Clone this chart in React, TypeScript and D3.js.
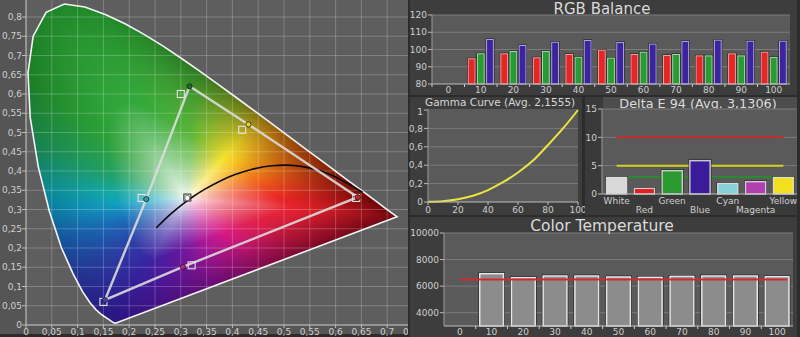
import React, { useMemo } from 'react';
import * as d3 from 'd3';

// ---------- CIE 1931 data ----------
const spectralLocus: [number, number][] = [
  [0.1733, 0.0048], [0.1726, 0.0048], [0.1714, 0.0051], [0.1689, 0.0069], [0.1644, 0.0109],
  [0.1611, 0.0138], [0.1566, 0.0177], [0.151, 0.0227], [0.144, 0.0297], [0.1355, 0.0399],
  [0.1241, 0.0578], [0.1096, 0.0868], [0.0913, 0.1327], [0.0687, 0.2007], [0.0454, 0.295],
  [0.0235, 0.4127], [0.0082, 0.5384], [0.0039, 0.6548], [0.0139, 0.7502], [0.0389, 0.812],
  [0.0743, 0.8338], [0.1142, 0.8262], [0.1547, 0.8059], [0.1929, 0.7816], [0.2296, 0.7543],
  [0.2658, 0.7243], [0.3016, 0.6923], [0.3373, 0.6589], [0.3731, 0.6245], [0.4087, 0.5896],
  [0.4441, 0.5547], [0.4788, 0.5202], [0.5125, 0.4866], [0.5448, 0.4544], [0.5752, 0.4242],
  [0.6029, 0.3965], [0.627, 0.3725], [0.6482, 0.3514], [0.6658, 0.334], [0.6801, 0.3197],
  [0.6915, 0.3083], [0.7006, 0.2993], [0.7079, 0.292], [0.714, 0.2859], [0.719, 0.2809],
];

const planckianLocus: [number, number][] = [
  [0.6528, 0.3444], [0.5857, 0.3931], [0.5267, 0.4133], [0.477, 0.4137], [0.4369, 0.4041],
  [0.4053, 0.3907], [0.3805, 0.3768], [0.3451, 0.3516], [0.3221, 0.3318], [0.3064, 0.3166],
  [0.2952, 0.3048], [0.2807, 0.2884], [0.2637, 0.2674], [0.2565, 0.2577], [0.2525, 0.2523],
];

const whitePoint: [number, number] = [0.3127, 0.329];

const pointNames = ['Red', 'Green', 'Blue', 'Cyan', 'Magenta', 'Yellow', 'White'];
const targetX = [0.64, 0.3, 0.15, 0.224, 0.321, 0.419, 0.3127];
const targetY = [0.33, 0.6, 0.06, 0.33, 0.155, 0.507, 0.331];
const measuredX = [0.643, 0.317, 0.153, 0.233, 0.304, 0.431, 0.3126];
const measuredY = [0.332, 0.62, 0.065, 0.327, 0.151, 0.521, 0.33];
const measuredColors = ['#d42020', '#1d6a2a', '#4a3ac0', '#2aa0b0', '#c02090', '#e8d820', '#ffffff'];
const gamutOrder = ['Green', 'Yellow', 'Red', 'Magenta', 'Blue', 'Cyan'];

const cieXTicks = [0, 0.05, 0.1, 0.15, 0.2, 0.25, 0.3, 0.35, 0.4, 0.45, 0.5, 0.55, 0.6, 0.65, 0.7, 0.75];
const cieYTicks = [0, 0.05, 0.1, 0.15, 0.2, 0.25, 0.3, 0.35, 0.4, 0.45, 0.5, 0.55, 0.6, 0.65, 0.7, 0.75, 0.8];

// hue anchors (angle around white point, degrees)
const hueAngles = [0, 23, 45, 56, 70, 88, 110, 135, 155, 175, 186, 205, 225, 245, 262, 285, 310, 335, 360];
const hueInner = ['#e82424', '#f07818', '#f5c424', '#f4e22a', '#b8c830', '#5ab43a', '#34a83a', '#2ca038', '#20a060', '#14a8a8', '#12a0c0', '#1a6cb8', '#2a44a8', '#3822a0', '#6018a0', '#a8189a', '#d81a80', '#e0204a', '#e82424'];
const hueEdge = ['#6a0606', '#8a2a06', '#9a5a0a', '#8a6a10', '#5a7a18', '#2a7a22', '#208a2a', '#1c7c26', '#188050', '#0c8890', '#0a7aa0', '#16509a', '#22308a', '#2a1480', '#461080', '#6a0c70', '#7a0a4a', '#7a0820', '#6a0606'];

// ---------- RGB Balance ----------
const rgbCategories = ['0', '10', '20', '30', '40', '50', '60', '70', '80', '90', '100'];
const rgbLevels = ['10', '20', '30', '40', '50', '60', '70', '80', '90', '100'];
const rgbRed = [94.9, 97.8, 95.5, 97.4, 99.9, 97.4, 96.8, 96.6, 97.8, 98.7];
const rgbGreen = [97.8, 99.1, 99.1, 95.8, 95.3, 98.7, 97.4, 96.6, 96.6, 95.7];
const rgbBlue = [106.1, 102.6, 104.5, 105.5, 104.3, 103.4, 104.9, 105.7, 105.1, 105.1];
const rgbYTicks = [80, 90, 100, 110, 120];

// ---------- Gamma ----------
const gammaX = [0, 10, 20, 30, 40, 50, 60, 70, 80, 90, 100];
const gammaY = [0.003, 0.009, 0.03, 0.068, 0.13, 0.215, 0.32, 0.45, 0.62, 0.8, 1.0];
const gammaXTicks = [0, 20, 40, 60, 80, 100];
const gammaYTicks = [0, 0.2, 0.4, 0.6, 0.8, 1];

// ---------- Delta E ----------
const deltaCategories = ['White', 'Red', 'Green', 'Blue', 'Cyan', 'Magenta', 'Yellow'];
const deltaValues = [3.06, 1.12, 4.24, 6.0, 2.0, 2.3, 3.06];
const deltaFill = ['#d8d8d8', '#e02020', '#2a9a30', '#3a1c9a', '#86d2d8', '#b040b0', '#f2e020'];
const deltaThresholds = [10, 5, 3];
const deltaThresholdColors = ['#c42a2a', '#d8d020', '#2a8a30'];
const deltaYTicks = [0, 5, 10, 15];

// ---------- Color Temperature ----------
const ctCategories = ['0', '10', '20', '30', '40', '50', '60', '70', '80', '90', '100'];
const ctLevels = ['10', '20', '30', '40', '50', '60', '70', '80', '90', '100'];
const ctValues = [7000, 6700, 6825, 6825, 6750, 6725, 6800, 6825, 6825, 6775];
const ctTarget = 6500;
const ctYTicks = [4000, 6000, 8000, 10000];

const FONT = 'DejaVu Sans, Verdana, sans-serif';
const LABEL = '#cfcfcf';
const fmt = (v: number) => String(Number(v.toFixed(3))).replace('.', ',');

function rayDistance(poly: [number, number][], ang: number) {
  const dx = Math.cos(ang), dy = Math.sin(ang);
  let best = Infinity;
  const n = poly.length;
  for (let i = 0; i < n; i++) {
    const p = poly[i], q = poly[(i + 1) % n];
    const ex = q[0] - p[0], ey = q[1] - p[1];
    const den = dx * ey - dy * ex;
    if (Math.abs(den) < 1e-12) continue;
    const wx = p[0] - whitePoint[0], wy = p[1] - whitePoint[1];
    const t = (wx * ey - wy * ex) / den;
    const u = (wx * dy - wy * dx) / den;
    if (t > 0 && u >= -1e-9 && u <= 1 + 1e-9) best = Math.min(best, t);
  }
  return best;
}

const cx = d3.scaleLinear().domain([0, 0.75]).range([26, 413]);
const cy = d3.scaleLinear().domain([0, 0.8]).range([325, 17]);

function buildCells() {
  const N = 720;
  const distTable: number[] = [];
  const innerTable: d3.RGBColor[] = [];
  const edgeTable: d3.RGBColor[] = [];
  for (let i = 0; i < N; i++) {
    const deg = (i / N) * 360;
    distTable.push(rayDistance(spectralLocus, (deg * Math.PI) / 180));
    let k = 0;
    while (k < hueAngles.length - 2 && deg >= hueAngles[k + 1]) k++;
    const f = (deg - hueAngles[k]) / (hueAngles[k + 1] - hueAngles[k]);
    innerTable.push(d3.rgb(d3.interpolateRgb(hueInner[k], hueInner[k + 1])(f)));
    edgeTable.push(d3.rgb(d3.interpolateRgb(hueEdge[k], hueEdge[k + 1])(f)));
  }
  const STEP = 2;
  const out: { x: number; y: number; c: string }[] = [];
  for (let px = 26; px < 408; px += STEP) {
    for (let py = 0; py < 325; py += STEP) {
      const corners = [
        [cx.invert(px), cy.invert(py)], [cx.invert(px + STEP), cy.invert(py)],
        [cx.invert(px), cy.invert(py + STEP)], [cx.invert(px + STEP), cy.invert(py + STEP)],
      ];
      if (!corners.some((c) => d3.polygonContains(spectralLocus, c as [number, number]))) continue;
      const x = cx.invert(px + STEP / 2), y = cy.invert(py + STEP / 2);
      const ddx = x - whitePoint[0], ddy = y - whitePoint[1];
      let deg = (Math.atan2(ddy, ddx) * 180) / Math.PI;
      if (deg < 0) deg += 360;
      const idx = Math.round((deg / 360) * N) % N;
      const t = Math.min(1.05, Math.sqrt(ddx * ddx + ddy * ddy) / distTable[idx]);
      const inner = innerTable[idx], edge = edgeTable[idx];
      let r: number, g: number, b: number;
      if (t <= 0.5) {
        const k = Math.pow(t / 0.5, 0.75);
        r = 255 * (1 - k) + inner.r * k; g = 255 * (1 - k) + inner.g * k; b = 255 * (1 - k) + inner.b * k;
      } else {
        const k = Math.pow(Math.min(1, (t - 0.5) / 0.5), 1.3);
        r = inner.r * (1 - k) + edge.r * k; g = inner.g * (1 - k) + edge.g * k; b = inner.b * (1 - k) + edge.b * k;
      }
      out.push({ x: px, y: py, c: `rgb(${Math.round(r)},${Math.round(g)},${Math.round(b)})` });
    }
  }
  return out;
}

function Bar({ x, y, w, h, fill, edge }: { x: number; y: number; w: number; h: number; fill: string; edge: string }) {
  return (
    <g>
      <rect x={x - 0.5} y={y - 0.5} width={w + 1} height={h + 0.5} fill="#161616" />
      <rect x={x + 0.5} y={y + 0.5} width={w - 1} height={h - 0.5} fill={fill} stroke={edge} strokeWidth={1} />
    </g>
  );
}

export default function App() {
  const cells = useMemo(() => buildCells(), []);
  const locusPath = d3.line<[number, number]>().x((d) => cx(d[0])).y((d) => cy(d[1])).curve(d3.curveLinearClosed)(spectralLocus) || '';
  const planckPath = d3.line<[number, number]>().x((d) => cx(d[0])).y((d) => cy(d[1])).curve(d3.curveCatmullRom)(planckianLocus) || '';
  const idx = (n: string) => pointNames.indexOf(n);
  const gamutPath = d3.line<string>().x((n) => cx(measuredX[idx(n)])).y((n) => cy(measuredY[idx(n)])).curve(d3.curveLinearClosed)(gamutOrder) || '';

  // RGB balance scales
  const rgbX = d3.scaleBand().domain(rgbCategories).range([432, 790]);
  const rgbY = d3.scaleLinear().domain([80, 120]).range([84, 15]);
  const rgbSub = d3.scaleBand().domain(['r', 'g', 'b']).range([0, rgbX.bandwidth()]).paddingInner(0.15).paddingOuter(0.35);
  const rgbSeries = [
    { key: 'r', vals: rgbRed, fill: '#e42626', edge: '#f4a0a0' },
    { key: 'g', vals: rgbGreen, fill: '#2a9a36', edge: '#a8d8a8' },
    { key: 'b', vals: rgbBlue, fill: '#3c249e', edge: '#b0a4e0' },
  ];

  // gamma scales
  const gX = d3.scaleLinear().domain([0, 100]).range([428, 578]);
  const gY = d3.scaleLinear().domain([0, 1]).range([202, 110]);
  const gammaPath = d3.line<number>().x((_, i) => gX(gammaX[i])).y((d) => gY(d)).curve(d3.curveCatmullRom.alpha(0.5))(gammaY) || '';

  // delta E scales
  const dX = d3.scaleBand().domain(deltaCategories).range([603, 797]).paddingInner(0.22).paddingOuter(0.1);
  const dY = d3.scaleLinear().domain([0, 15]).range([194, 109]);

  // colour temperature scales
  const tX = d3.scaleBand().domain(ctCategories).range([444, 793]).paddingInner(0.2).paddingOuter(0.1);
  const tY = d3.scaleLinear().domain([3000, 10000]).range([326, 233]);

  return (
    <svg width={800} height={337} viewBox="0 0 800 337" style={{ position: 'fixed', left: 0, top: 0, display: 'block' }} fontFamily={FONT}>
      <defs>
        <clipPath id="locusClip"><path d={locusPath} /></clipPath>
        <clipPath id="leftClip"><rect x={0} y={0} width={408} height={337} /></clipPath>
      </defs>
      <rect x={0} y={0} width={800} height={337} fill="#2c2c2c" />

      {/* ---------- CIE panel ---------- */}
      <g clipPath="url(#leftClip)">
        <rect x={0} y={0} width={408} height={334} fill="#555555" />
        <rect x={26} y={0} width={382} height={325} fill="#5e5e5e" />
        <g clipPath="url(#locusClip)" shapeRendering="crispEdges">
          {cells.map((c, i) => (
            <rect key={i} x={c.x} y={c.y} width={2} height={2} fill={c.c} />
          ))}
        </g>
        {cieXTicks.map((v) => (
          <line key={'vx' + v} x1={cx(v)} x2={cx(v)} y1={0} y2={325} stroke="#ffffff" strokeOpacity={0.22} />
        ))}
        {cieYTicks.map((v) => (
          <line key={'hy' + v} x1={26} x2={408} y1={cy(v)} y2={cy(v)} stroke="#ffffff" strokeOpacity={0.22} />
        ))}
        <path d={locusPath} fill="none" stroke="#f4f4f4" strokeWidth={1.6} />
        <path d={planckPath} fill="none" stroke="#0c0c0c" strokeWidth={1.6} />
        <path d={gamutPath} fill="none" stroke="#dcdcdc" strokeOpacity={0.9} strokeWidth={2.4} />
        {pointNames.map((n, i) => (
          <rect key={'t' + n} x={cx(targetX[i]) - 3.5} y={cy(targetY[i]) - 3.5} width={7} height={7} fill="none"
            stroke={n === 'White' ? '#3a3a3a' : '#e4e4e4'} strokeWidth={1.1} />
        ))}
        {pointNames.map((n, i) => (
          <circle key={'m' + n} cx={cx(measuredX[i])} cy={cy(measuredY[i])} r={2.6} fill={measuredColors[i]}
            stroke={n === 'White' ? '#555' : '#202020'} strokeWidth={0.8} />
        ))}
        <line x1={26} x2={408} y1={325} y2={325} stroke="#bdbdbd" />
        <line x1={26} x2={26} y1={0} y2={325} stroke="#bdbdbd" />
        {cieXTicks.map((v) => (
          <g key={'xt' + v}>
            <line x1={cx(v)} x2={cx(v)} y1={325} y2={328} stroke="#bdbdbd" />
            <text x={cx(v)} y={335} fontSize={9} fill={LABEL} textAnchor="middle">{fmt(v)}</text>
          </g>
        ))}
        {cieYTicks.map((v) => (
          <g key={'yt' + v}>
            <line x1={22} x2={26} y1={cy(v)} y2={cy(v)} stroke="#bdbdbd" />
            <text x={22} y={cy(v) + 3.2} fontSize={9} fill={LABEL} textAnchor="end">{fmt(v)}</text>
          </g>
        ))}
      </g>

      {/* ---------- RGB Balance ---------- */}
      <rect x={410} y={0} width={387} height={95} fill="#3d3d3d" />
      <rect x={432} y={15} width={358} height={69} fill="#5a5a5a" />
      <text x={602} y={13.5} fontSize={15} fill="#dadada" textAnchor="middle">RGB Balance</text>
      {rgbYTicks.map((v) => (
        <g key={'rg' + v}>
          {v !== 80 && <line x1={432} x2={790} y1={rgbY(v)} y2={rgbY(v)} stroke="#7c7c7c" />}
          <line x1={428} x2={432} y1={rgbY(v)} y2={rgbY(v)} stroke="#bdbdbd" />
          <text x={427} y={rgbY(v) + 3.2} fontSize={9} fill={LABEL} textAnchor="end">{v}</text>
        </g>
      ))}
      {rgbSeries.map((s) =>
        rgbLevels.map((lvl, i) => {
          const x = (rgbX(lvl) as number) + (rgbSub(s.key) as number);
          const y = rgbY(s.vals[i]);
          return <Bar key={s.key + lvl} x={x} y={y} w={rgbSub.bandwidth()} h={rgbY(80) - y} fill={s.fill} edge={s.edge} />;
        })
      )}
      <line x1={432} x2={790} y1={84} y2={84} stroke="#bdbdbd" />
      <line x1={432} x2={432} y1={15} y2={84} stroke="#9a9a9a" />
      {rgbCategories.map((c) => (
        <g key={'rc' + c}>
          <line x1={rgbX(c) as number} x2={rgbX(c) as number} y1={84} y2={87} stroke="#cfcfcf" />
          <text x={(rgbX(c) as number) + rgbX.bandwidth() / 2} y={92.5} fontSize={9} fill={LABEL} textAnchor="middle">{c}</text>
        </g>
      ))}

      {/* ---------- Gamma ---------- */}
      <rect x={410} y={97} width={172} height={118} fill="#3d3d3d" />
      <rect x={428} y={109} width={150} height={93} fill="#5a5a5a" />
      {gammaYTicks.map((v) => (
        <g key={'gy' + v}>
          {v !== 0 && v !== 1 && <line x1={428} x2={578} y1={gY(v)} y2={gY(v)} stroke="#7c7c7c" />}
          <line x1={424} x2={428} y1={gY(v)} y2={gY(v)} stroke="#bdbdbd" />
          <text x={423} y={v === 1 ? gY(v) + 5 : gY(v) + 3.2} fontSize={9} fill={LABEL} textAnchor="end">{fmt(v)}</text>
        </g>
      ))}
      <path d={gammaPath} fill="none" stroke="#ece440" strokeWidth={2} />
      <line x1={428} x2={578} y1={202} y2={202} stroke="#bdbdbd" />
      <line x1={428} x2={428} y1={109} y2={202} stroke="#9a9a9a" />
      {gammaXTicks.map((v) => (
        <g key={'gx' + v}>
          <line x1={gX(v)} x2={gX(v)} y1={202} y2={205} stroke="#bdbdbd" />
          <text x={gX(v)} y={212.5} fontSize={9} fill={LABEL} textAnchor="middle">{v}</text>
        </g>
      ))}
      <text x={425} y={105.5} fontSize={10.5} fill="#d6d6d6">Gamma Curve (Avg. 2,1555)</text>

      {/* ---------- Delta E ---------- */}
      <rect x={585} y={97} width={212} height={118} fill="#3a3a3a" />
      <rect x={603} y={97} width={194} height={12} fill="#4d4d4d" />
      <text x={698} y={107.5} fontSize={12.8} fill="#dcdcdc" textAnchor="middle">Delta E 94 (Avg. 3,1306)</text>
      <rect x={602} y={109} width={195} height={85} fill="#5a5a5a" />
      {deltaYTicks.map((v) => (
        <g key={'dy' + v}>
          {v !== 0 && <line x1={602} x2={797} y1={dY(v)} y2={dY(v)} stroke="#7c7c7c" />}
          <line x1={598} x2={602} y1={dY(v)} y2={dY(v)} stroke="#bdbdbd" />
          <text x={597} y={dY(v) + 3.2} fontSize={9} fill={LABEL} textAnchor="end">{v}</text>
        </g>
      ))}
      {deltaThresholds.map((v, i) => (
        <line key={'th' + v}
          x1={(dX('White') as number) + dX.bandwidth() / 2} x2={(dX('Yellow') as number) + dX.bandwidth() / 2}
          y1={dY(v)} y2={dY(v)} stroke={deltaThresholdColors[i]} strokeWidth={2} />
      ))}
      {deltaCategories.map((c, i) => {
        const x = dX(c) as number;
        const y = dY(deltaValues[i]);
        return (
          <g key={'db' + c}>
            <rect x={x - 0.5} y={y - 0.5} width={dX.bandwidth() + 1} height={dY(0) - y + 0.5} fill="#1a1a1a" />
            <rect x={x + 0.7} y={y + 0.7} width={dX.bandwidth() - 1.4} height={dY(0) - y - 0.7} fill={deltaFill[i]} stroke="#e8e8e8" strokeOpacity={0.85} strokeWidth={1.4} />
          </g>
        );
      })}
      <line x1={602} x2={797} y1={194} y2={194} stroke="#bdbdbd" />
      <line x1={602} x2={602} y1={109} y2={194} stroke="#9a9a9a" />
      {deltaCategories.map((c, i) => (
        <text key={'dl' + c} x={(dX(c) as number) + dX.bandwidth() / 2} y={i % 2 === 0 ? 204 : 212.5} fontSize={9} fill={LABEL} textAnchor="middle">{c}</text>
      ))}

      {/* ---------- Color Temperature ---------- */}
      <rect x={410} y={217} width={387} height={120} fill="#3d3d3d" />
      <rect x={444} y={233} width={349} height={93} fill="#5a5a5a" />
      {ctYTicks.map((v) => (
        <g key={'ty' + v}>
          <line x1={444} x2={793} y1={tY(v)} y2={tY(v)} stroke="#7c7c7c" />
          <line x1={440} x2={444} y1={tY(v)} y2={tY(v)} stroke="#bdbdbd" />
          <text x={439} y={tY(v) + 3.2} fontSize={9} fill={LABEL} textAnchor="end">{v}</text>
        </g>
      ))}
      <text x={602} y={231} fontSize={15.5} fill="#dadada" textAnchor="middle">Color Temperature</text>
      {ctLevels.map((lvl, i) => {
        const x = tX(lvl) as number;
        const y = tY(ctValues[i]);
        return (
          <g key={'tb' + lvl}>
            <rect x={x - 0.5} y={y - 0.5} width={tX.bandwidth() + 1} height={326 - y + 0.5} fill="#151515" />
            <rect x={x + 0.8} y={y + 0.8} width={tX.bandwidth() - 1.6} height={326 - y - 0.8} fill="#8c8c8c" stroke="#e6e6e6" strokeWidth={1.5} />
          </g>
        );
      })}
      <line x1={(tX('0') as number) + tX.bandwidth() / 2} x2={(tX('100') as number) + tX.bandwidth() * 0.9}
        y1={tY(ctTarget)} y2={tY(ctTarget)} stroke="#d42a2a" strokeWidth={2} />
      <line x1={444} x2={793} y1={326} y2={326} stroke="#bdbdbd" />
      <line x1={444} x2={444} y1={233} y2={326} stroke="#9a9a9a" />
      {ctCategories.map((c) => {
        const step = tX.step();
        const b = (tX(c) as number) - (step - tX.bandwidth()) / 2;
        return (
          <g key={'tc' + c}>
            {c !== '0' && <line x1={b} x2={b} y1={326} y2={329} stroke="#cfcfcf" />}
            <text x={(tX(c) as number) + tX.bandwidth() / 2} y={335} fontSize={9} fill={LABEL} textAnchor="middle">{c}</text>
          </g>
        );
      })}
    </svg>
  );
}
